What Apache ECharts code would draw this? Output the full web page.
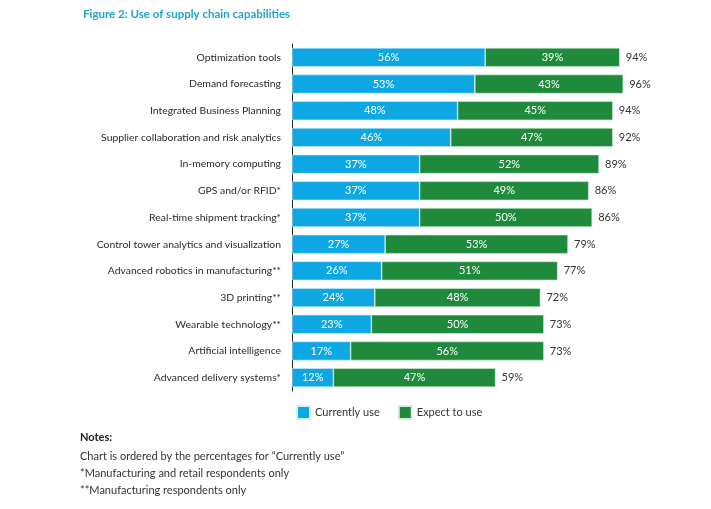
<!DOCTYPE html>
<html><head><meta charset="utf-8">
<script src="https://cdn.jsdelivr.net/npm/echarts@6/dist/echarts.min.js"></script>
<style>html,body{margin:0;padding:0;background:#fff}#c{width:711px;height:509px}</style>
</head><body><div id="c"></div>
<script>
const categories = ["Optimization tools","Demand forecasting","Integrated Business Planning","Supplier collaboration and risk analytics","In-memory computing","GPS and/or RFID*","Real-time shipment tracking*","Control tower analytics and visualization","Advanced robotics in manufacturing**","3D printing**","Wearable technology**","Artificial intelligence","Advanced delivery systems*"];
const currentlyUse = [56,53,48,46,37,37,37,27,26,24,23,17,12];
const expectToUse = [39,43,45,47,52,49,50,53,51,48,50,56,47];
const totals = [94,96,94,92,89,86,86,79,77,72,73,73,59];
const notes = ["Chart is ordered by the percentages for \u201cCurrently use\u201d","*Manufacturing and retail respondents only","**Manufacturing respondents only"];

const FONT = 'Lato';
const chart = echarts.init(document.getElementById('c'));
chart.setOption({
  animation:false,
  textStyle:{fontFamily:FONT},
  title:{text:'Figure 2: Use of supply chain capabilities',left:78,top:3,
    textStyle:{color:'#1ea5cc',fontSize:11.5,fontWeight:'bold',fontFamily:FONT}},
  legend:{bottom:84,left:291,itemWidth:13,itemHeight:13,itemGap:18,icon:'rect',
    textStyle:{color:'#333',fontSize:11,fontFamily:FONT},
    data:['Currently use','Expect to use']},
  grid:{left:292,right:74,top:44,bottom:118,containLabel:false},
  xAxis:{type:'value',min:0,max:100,show:false},
  yAxis:{type:'category',inverse:true,data:categories,
    axisLine:{show:true,lineStyle:{color:'#222',width:1}},
    axisTick:{show:false},
    axisLabel:{color:'#2a2a2a',fontSize:10.4,margin:11,fontFamily:FONT}},
  series:[
    {name:'Currently use',type:'bar',stack:'a',barWidth:19,data:currentlyUse,
      itemStyle:{color:'#0da8e4',borderColor:'#d6eef8',borderWidth:0.6},
      label:{show:true,position:'inside',color:'#fff',fontSize:11,formatter:'{c}%'}},
    {name:'Expect to use',type:'bar',stack:'a',barWidth:19,data:expectToUse,
      itemStyle:{color:'#1f8a3c',borderColor:'#d8eedd',borderWidth:0.6},
      label:{show:true,position:'inside',color:'#fff',fontSize:11,formatter:'{c}%'}},
    {name:'Total',type:'bar',stack:'a',barWidth:19,data:totals.map(()=>0),
      itemStyle:{color:'transparent'},
      label:{show:true,position:'right',distance:6,color:'#333',fontSize:11,
        formatter:p=>totals[p.dataIndex]+'%'}}
  ],
  graphic:[
    {type:'text',left:80,top:432,style:{text:'Notes:',fill:'#222',font:'bold 11px '+FONT}},
    {type:'text',left:80,top:451,style:{text:notes[0],fill:'#333',font:'11px '+FONT}},
    {type:'text',left:80,top:468,style:{text:notes[1],fill:'#333',font:'11px '+FONT}},
    {type:'text',left:80,top:485,style:{text:notes[2],fill:'#333',font:'11px '+FONT}}
  ]
});
</script></body></html>
